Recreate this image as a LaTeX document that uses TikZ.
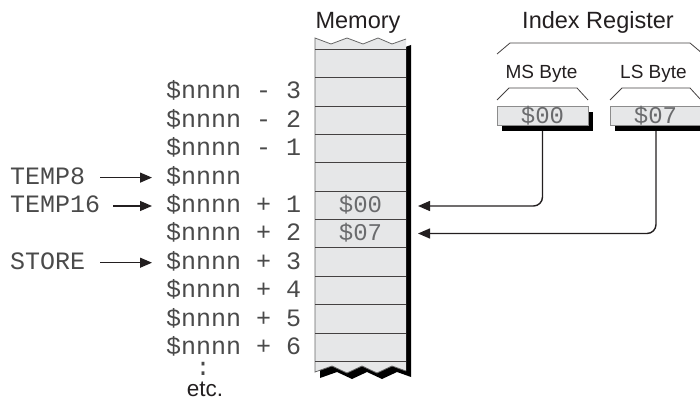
\documentclass[tikz,border=0pt]{standalone}
\usepackage{fontspec}
\setmainfont{Liberation Sans}
\newfontfamily\monof{Liberation Mono}
\usetikzlibrary{arrows.meta,shadows}
\definecolor{memfill}{HTML}{E6E7E8}
\definecolor{ink}{HTML}{231F20}
\definecolor{valgray}{HTML}{6A6B6D}
\definecolor{labelc}{HTML}{4A4A4A}
\begin{document}
\begin{tikzpicture}[x=1pt,y=-1pt,
  lbl/.style={font=\monof\fontsize{25}{25}\selectfont, text=labelc, inner sep=0pt, anchor=base west,
    text height=16pt, text depth=0pt},
  ttl/.style={font=\fontsize{23.5}{24}\selectfont, text=ink, inner sep=0pt, anchor=base},
  sub/.style={font=\fontsize{19}{20}\selectfont, text=ink, inner sep=0pt, anchor=base},
  memval/.style={font=\monof\fontsize{24}{24}\selectfont, text=valgray, inner sep=0pt, anchor=base},
  regbox/.style={draw=black!45, line width=0.8pt, fill=memfill, minimum width=91pt, minimum height=19pt,
    inner sep=0pt, font=\monof\fontsize{24}{24}\selectfont, text=valgray,
    general shadow={fill=black, shadow xshift=5pt, shadow yshift=-6pt}},
  ptr/.style={draw=ink, line width=1.4pt, -{Triangle[length=12pt,width=10pt]}},
  brk/.style={draw=ink!85, line width=0.8pt, line join=miter},
  rowline/.style={draw=ink!85, line width=1pt},
  memedge/.style={draw=black!60, line width=0.8pt}
]
\useasboundingbox (0,0) rectangle (700,411);
\clip (0,0) rectangle (700,411);

% ---------- memory column ----------
\def\memshape{(315,38) -- (331,44) -- (347,38) -- (363,44) -- (378,38) -- (392,44) -- (406,39)
  -- (406,371) -- (392,366) -- (377,373) -- (362,366) -- (347,373) -- (332,366) -- (315,372) -- cycle}
\begin{scope}[shift={(5,6)}]
  \fill[black] \memshape;
\end{scope}
\fill[memfill] \memshape;
\draw[memedge] (406,39) -- (392,44) -- (378,38) -- (363,44) -- (347,38) -- (331,44) -- (315,38)
  -- (315,372) -- (332,366) -- (347,373) -- (362,366) -- (377,373) -- (392,366) -- (406,371);
\foreach \i in {0,...,11} {
  \draw[rowline] (315,{49.3+28.37*\i}) -- (406,{49.3+28.37*\i});
}
\node[ttl] (memtitle) at (358,28.5) {Memory};

% values in memory
\node[memval] (v00) at (360.5,212.5) {\$00};
\node[memval] (v07) at (360.5,240.9) {\$07};

% ---------- address labels ----------
\node[lbl] (rm3) at (166,99)    {\$nnnn - 3};
\node[lbl] (rm2) at (166,127.4) {\$nnnn - 2};
\node[lbl] (rm1) at (166,155.7) {\$nnnn - 1};
\node[lbl] (r0)  at (166,184.1) {\$nnnn};
\node[lbl] (r1)  at (166,212.5) {\$nnnn + 1};
\node[lbl] (r2)  at (166,240.9) {\$nnnn + 2};
\node[lbl] (r3)  at (166,269.2) {\$nnnn + 3};
\node[lbl] (r4)  at (166,297.6) {\$nnnn + 4};
\node[lbl] (r5)  at (166,326)   {\$nnnn + 5};
\node[lbl] (r6)  at (166,354.3) {\$nnnn + 6};
\node[lbl, anchor=base, text height=10pt, text depth=0pt] (dots) at (203,375.5) {:};
\node[font=\fontsize{22.5}{22.5}\selectfont, text=ink, inner sep=0pt, anchor=base,
  text height=15pt, text depth=0pt] (etc) at (205,396) {etc.};

% ---------- symbolic names ----------
\node[lbl] (temp8)  at (10,184.1) {TEMP8};
\node[lbl] (temp16) at (10,212.5) {TEMP16};
\node[lbl] (store)  at (10,269.2) {STORE};
\coordinate (s8)  at (100,177.6);
\coordinate (s16) at (113,206.0);
\coordinate (sst) at (100,262.7);
\coordinate (e8)  at (152,177.6);
\coordinate (e16) at (152,206.0);
\coordinate (est) at (152,262.7);
\draw[ptr, line width=1.2pt] (s8) -- (e8);
\draw[ptr, line width=1.2pt] (s16) -- (e16);
\draw[ptr, line width=1.2pt] (sst) -- (est);

% ---------- index register ----------
\node[ttl] (irtitle) at (598,28.5) {Index Register};
\draw[brk] (497,54) -- (510,43) -- (690,43) -- (703,54);
\node[sub] (msl) at (541.5,78.5) {MS Byte};
\node[sub] (lsl) at (653.5,78.5) {LS Byte};
\draw[brk] (497,100) -- (509,88) -- (577,88) -- (588,100);
\draw[brk] (610,100) -- (622,88) -- (690,88) -- (701,100);

\coordinate (t1) at (418,206.0);
\coordinate (t2) at (418,233.5);
\draw[ptr, rounded corners=9pt] (542.5,125) |- (t1);
\draw[ptr, rounded corners=9pt] (656,125) |- (t2);

\node[regbox] (ms) at (542.5,115.5) {\$00};
\node[regbox] (ls) at (655.5,115.5) {\$07};
\end{tikzpicture}
\end{document}
